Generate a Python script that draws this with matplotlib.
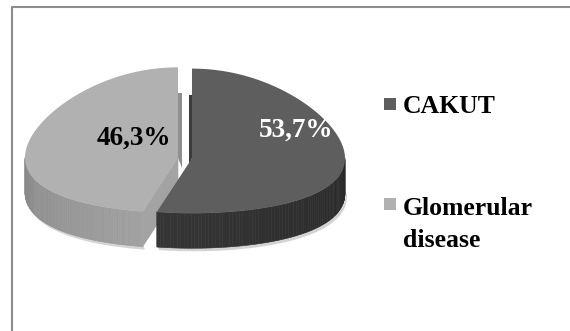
import numpy as np
import matplotlib.pyplot as plt
from matplotlib.collections import PolyCollection
from matplotlib.patches import Rectangle, Polygon

# data
categories = ['CAKUT', 'Glomerular\ndisease']
shares = [53.7, 46.3]
pct_text = ['53,7%', '46,3%']

# styling
top_cols = ['#5e5e5e', '#b1b1b1']
side_dark = [0.21, 0.16]     # gray level of side along the arc
side_light = [0.53, 0.63]

W, H = 570, 331
cx, R = 185, 153           # horizontal centre / radius (px)
yc, A, p = 158, 68.3, 0.2414   # fake perspective for the tilted top
depth = 35

fig = plt.figure(figsize=(5.7, 3.31), dpi=100)
ax = fig.add_axes([0, 0, 1, 1])

wedges, _ = ax.pie(shares, startangle=90, counterclock=False, radius=1,
                   explode=[0.046, 0.046], labeldistance=None,
                   colors=top_cols, wedgeprops=dict(linewidth=0))
ax.set_xlim(0, W)
ax.set_ylim(0, H)
ax.set_aspect('auto')
ax.axis('off')


def proj(u, v):
    # unit pie coords -> pixel coords (y up)
    u = np.asarray(u, float)
    v = np.asarray(v, float)
    return cx + R * u, H - (yc - A * v / (1 - p * v))


def arc(w, a0, a1, n=80):
    th = np.radians(np.linspace(a0, a1, n))
    ox, oy = w.center
    return proj(ox + np.cos(th), oy + np.sin(th))


def draw_top(w, z):
    xs, ys = arc(w, w.theta1, w.theta2, 120)
    x0, y0 = proj(*w.center)
    pts = [(x0, y0)] + list(zip(xs, ys))
    ax.add_patch(Polygon(pts, closed=True, fc=w.get_facecolor(), ec='none', zorder=z))
    w.set_visible(False)


def draw_side(w, levels, z):
    a0 = max(w.theta1, -180)
    a1 = min(w.theta2, 0)
    if a1 <= a0:
        return
    xs, ys = arc(w, a0, a1)
    # soft shadow under the side
    sh = list(zip(xs + 1, ys - depth + 1)) + list(zip(xs[::-1] + 2, ys[::-1] - depth - 3))
    ax.add_patch(Polygon(sh, closed=True, fc='#d4d4d4', ec='none', zorder=0.5))
    polys = []
    for i in range(len(xs) - 1):
        polys.append([(xs[i], ys[i]), (xs[i + 1], ys[i + 1]),
                      (xs[i + 1], ys[i + 1] - depth), (xs[i], ys[i] - depth)])
    g = np.linspace(levels[0], levels[1], len(polys))
    cols = [(v, v, v) for v in g]
    ax.add_collection(PolyCollection(polys, facecolors=cols, edgecolors=cols,
                                     linewidths=0.4, zorder=z))


def draw_cut(w, ang, col, z):
    # radial face facing the viewer
    x0, y0 = proj(*w.center)
    xs, ys = arc(w, ang, ang, 1)
    x1, y1 = xs[0], ys[0]
    pts = [(x0, y0), (x1, y1), (x1, y1 - depth), (x0, y0 - depth)]
    ax.add_patch(Polygon(pts, closed=True, fc=col, ec=col, lw=0.4, zorder=z))


def draw_strip(w, dx, col, z):
    # thin back face seen in the gap
    x0, y0 = proj(*w.center)
    xs, ys = arc(w, 90, 90, 1)
    x1, y1 = xs[0], ys[0] - 26
    pts = [(x0, y0), (x1, y1), (x1 + dx, y1), (x0 + dx, y0 - 10)]
    ax.add_patch(Polygon(pts, closed=True, fc=col, ec='none', zorder=z))


dark, light = wedges
# light slice sits behind
draw_side(light, side_light, 1)
draw_cut(light, light.theta2, '#a3a3a3', 1.5)
draw_strip(light, 4, '#8f8f8f', 1.5)
draw_top(light, 2)

draw_strip(dark, -3, '#3c3c3c', 2.5)
draw_side(dark, side_dark, 3)
draw_top(dark, 4)

# percentage labels
ax.text(296, H - 130, pct_text[0], color='white', fontsize=19.5,
        family='Liberation Serif', weight='bold', ha='center', va='center', zorder=6)
ax.text(134, H - 138, pct_text[1], color='black', fontsize=19.5,
        family='Liberation Serif', weight='bold', ha='center', va='center', zorder=6)

# legend
sq_top = [98, 198]
last_base = [113, 247]
for i, lab in enumerate(categories):
    ax.add_patch(Rectangle((384, H - sq_top[i] - 12), 12, 12, fc=top_cols[i], ec='none'))
    ax.text(403, H - last_base[i], lab, fontsize=18.5, family='Liberation Serif',
            weight='bold', ha='left', va='baseline', linespacing=1.5)

# frame
ax.plot([11.5, 11.5, W], [0, H - 6.5, H - 6.5], color='#8c8c8c', lw=1.5,
        clip_on=False)

fig.savefig('out.png', dpi=100)
